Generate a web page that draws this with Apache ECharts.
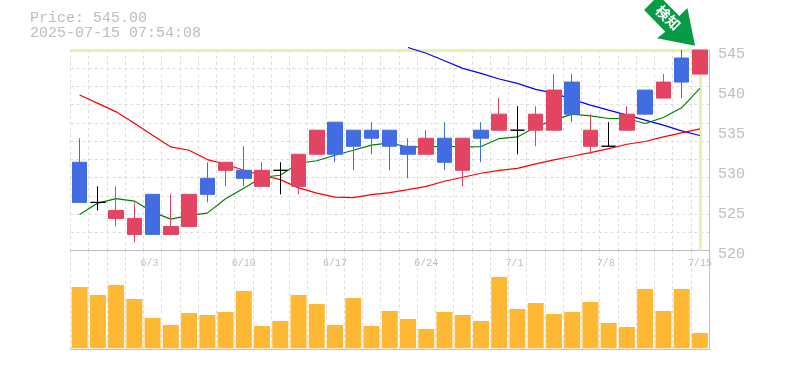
<!DOCTYPE html>
<html><head><meta charset="utf-8">
<style>html,body{margin:0;padding:0;background:#fff}#c{width:785px;height:370px}</style>
<script src="https://cdn.jsdelivr.net/npm/echarts@6/dist/echarts.min.js"></script>
</head><body><div id="c"></div>
<script>
const dates=['5/28','5/29','5/30','6/2','6/3','6/4','6/5','6/6','6/9','6/10','6/11','6/12','6/13','6/16','6/17','6/18','6/19','6/20','6/23','6/24','6/25','6/26','6/27','6/30','7/1','7/2','7/3','7/4','7/7','7/8','7/9','7/10','7/11','7/14','7/15'];
const labelDates=['6/3','6/10','6/17','6/24','7/1','7/8','7/15'];
const opens=[531,526,524,522,527,522,523,529,530,530,528,530,528,532,536,535,535,535,533,532,534,530,535,535,535,535,535,541,533,533,535,540,539,544,542];
const closes=[526,526,525,524,522,523,527,527,531,529,530,530,532,535,532,533,534,533,532,534,531,534,534,537,535,537,540,537,535,533,537,537,541,541,545];
const lows=[526,525,523,521,522,522,523,526,528,528,528,527,527,532,531,530,532,530,529,532,530,528,531,535,532,533,535,536,532,533,535,537,539,539,542];
const highs=[534,528,528,526,527,527,527,531,531,533,531,531,532,535,536,535,536,535,534,535,536,534,536,539,538,538,542,542,537,536,538,540,542,545,545];
const maShort=[524.5,525.91,526.46,526.16,524.79,523.91,524.38,524.66,526.46,527.75,529.13,529.38,530.88,531.19,531.88,532.5,533.13,533.41,532.91,532.91,533,532.91,532.96,533.96,534.16,535.41,536.25,537,536.79,536.46,536.46,535.84,536.59,537.79,540.21];
const maMid=[539.38,538.34,537.29,535.88,534.38,532.91,532.5,531.34,530.75,530,529.38,528.84,527.81,527.16,526.66,526.59,526.96,527.21,527.59,528,528.63,529.13,529.63,530,530.25,530.81,531.31,531.75,532.21,532.71,533.25,533.59,534.16,534.66,535.16];
const maLong=[null,null,null,null,null,null,null,null,null,null,null,null,null,null,null,null,null,null,545.31,544.59,543.66,542.71,542.09,541.38,540.84,540.09,539.63,538.84,538.13,537.5,536.88,536.25,535.63,534.91,534.34];
const volumes=[6130,5330,6330,4930,3030,2330,3530,3330,3630,5730,2230,2730,5330,4430,2330,5030,2230,3730,2930,1930,3630,3330,2730,7130,3930,4530,3430,3630,4630,2530,2130,5930,3730,5930,1530];
const titleLines=['Price: 545.00','2025-07-15 07:54:08'];
const signalText='検知';
const lastPrice=545;

const MONO='"Liberation Mono",monospace', GREY='#bdbdbd', DASH='#dddddd', AXIS='#c0c0c0';
const RED='#e24462', BLUE='#416ce2', BAND='#e3f4a8';
const split={show:true,interval:0,lineStyle:{color:DASH,width:1,type:[3,3]}};
const chart=echarts.init(document.getElementById('c'),null,{renderer:'canvas'});
chart.setOption({
  animation:false,
  backgroundColor:'#fff',
  title:{text:titleLines.join('\n'),left:30,top:11,padding:0,
    textStyle:{fontFamily:MONO,fontSize:15,fontWeight:'normal',color:GREY,lineHeight:15}},
  grid:[
    {left:70.5,top:50,width:638.5,height:200.5,containLabel:false},
    {left:70.5,top:250.5,width:638.5,height:99,containLabel:false}
  ],
  xAxis:[
    {type:'category',gridIndex:0,data:dates,boundaryGap:true,
     axisLine:{show:true,onZero:false,lineStyle:{color:AXIS,width:1}},axisTick:{show:false},
     splitLine:split,
     axisLabel:{show:true,interval:(i,v)=>labelDates.includes(v),margin:8,hideOverlap:false,
       formatter:v=>'{a|'+v+'}',
       rich:{a:{width:24,align:'left',fontFamily:MONO,fontSize:10,color:GREY}}}},
    {type:'category',gridIndex:1,data:dates,boundaryGap:true,
     axisLine:{show:true,onZero:false,lineStyle:{color:AXIS,width:1}},axisTick:{show:false},
     splitLine:split,axisLabel:{show:false}}
  ],
  yAxis:[
    {type:'value',gridIndex:0,min:520,max:545,interval:5,position:'right',scale:true,
     axisLine:{show:true,lineStyle:{color:AXIS,width:1}},axisTick:{show:false},splitLine:{show:false},
     axisLabel:{margin:9,fontFamily:MONO,fontSize:15,color:GREY,verticalAlign:'top',lineHeight:8}},
    {type:'value',gridIndex:0,min:0,max:11,interval:1,position:'left',
     axisLine:{show:false},axisTick:{show:false},axisLabel:{show:false},
     splitLine:{show:true,lineStyle:{color:DASH,width:1,type:[3,3]}}},
    {type:'value',gridIndex:1,min:-120,max:9780,position:'right',
     axisLine:{show:true,lineStyle:{color:AXIS,width:1}},axisTick:{show:false},axisLabel:{show:false},splitLine:{show:false}}
  ],
  series:[
    {name:'latest',type:'line',xAxisIndex:0,yAxisIndex:0,data:[],z:1,silent:true,
     markLine:{z:1,silent:true,symbol:'none',animation:false,label:{show:false},
       lineStyle:{color:BAND,width:3,type:'solid'},
       data:[{yAxis:lastPrice},{xAxis:dates[dates.length-1]}]}},
    {name:'MA long',type:'line',xAxisIndex:0,yAxisIndex:0,data:maLong,z:2,clip:false,showSymbol:false,symbol:'none',
     lineStyle:{color:'#0000ff',width:1.2}},
    {name:'MA mid',type:'line',xAxisIndex:0,yAxisIndex:0,data:maMid,z:2,showSymbol:false,symbol:'none',
     lineStyle:{color:'#ff0000',width:1.2}},
    {name:'MA short',type:'line',xAxisIndex:0,yAxisIndex:0,data:maShort,z:2,showSymbol:false,symbol:'none',
     lineStyle:{color:'#008000',width:1.2}},
    {name:'price',type:'candlestick',xAxisIndex:0,yAxisIndex:0,z:3,barWidth:15,clip:false,
     data:dates.map((d,i)=>[opens[i],closes[i],lows[i],highs[i]]),
     itemStyle:{color:RED,color0:BLUE,borderColor:RED,borderColor0:BLUE,borderColorDoji:'#000',borderWidth:1},
     markPoint:{silent:true,animation:false,z:5,
       data:[{coord:[dates[dates.length-1],lastPrice],
         symbol:'path://M644.7 10L659.3 -4.7L680 16L688 8L695.7 45.7L657.7 38.3L666 31.7Z',
         symbolKeepAspect:false,symbolSize:[51,50.4],symbolOffset:[-30.3,-29.5],
         itemStyle:{color:'#089b45'},
         label:{show:true,position:'inside',offset:[-3,-1],rotate:-45,formatter:signalText,
           fontFamily:'"Noto Sans CJK JP"',fontWeight:'bold',fontSize:14,color:'#fff'}}]}},
    {name:'volume',type:'bar',xAxisIndex:1,yAxisIndex:2,barWidth:16,data:volumes,z:2,
     itemStyle:{color:'#ffb833'}}
  ]
});
</script></body></html>
